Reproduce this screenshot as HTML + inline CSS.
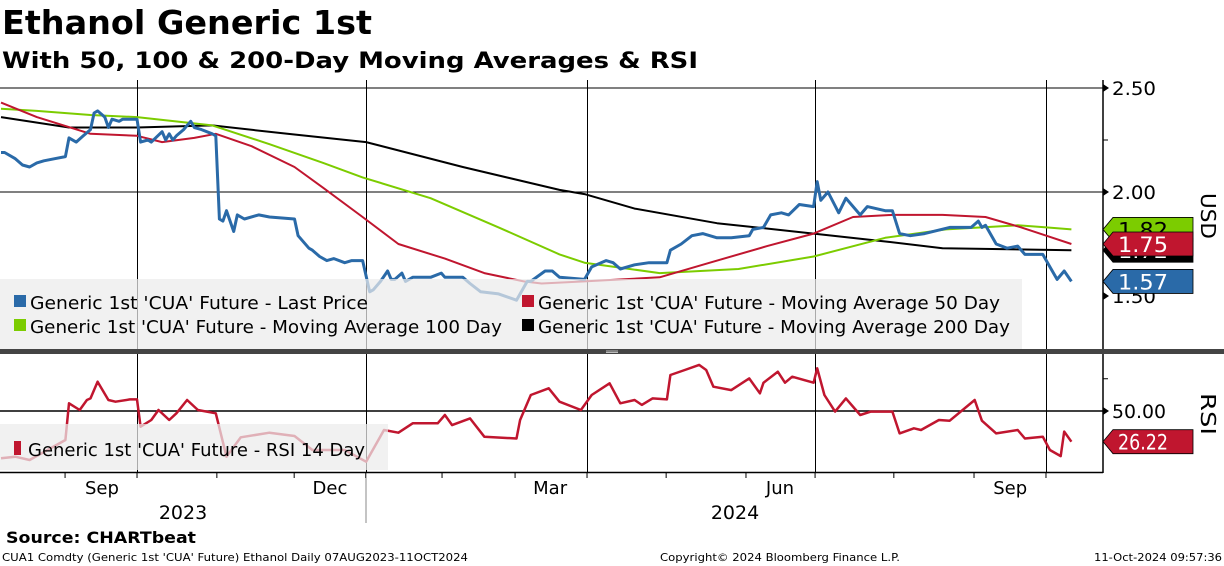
<!DOCTYPE html>
<html><head><meta charset="utf-8"><style>
html,body{margin:0;padding:0;background:#fff;}
svg{display:block;font-family:"DejaVu Sans","Liberation Sans",sans-serif;}
</style></head><body>
<svg id="chart" width="1224" height="566" viewBox="0 0 1224 566" xmlns="http://www.w3.org/2000/svg">
<text x="2" y="34" font-weight="bold" font-size="33" textLength="370" lengthAdjust="spacingAndGlyphs">Ethanol Generic 1st</text>
<text x="2" y="68" font-weight="bold" font-size="22" textLength="696" lengthAdjust="spacingAndGlyphs">With 50, 100 &amp; 200-Day Moving Averages &amp; RSI</text>
<g id="grid"></g>
<g id="series"></g>
<g id="legends"></g>
<g id="axes"></g>
<text x="6" y="543" font-weight="bold" font-size="16" textLength="190" lengthAdjust="spacingAndGlyphs">Source: CHARTbeat</text>
<text x="2" y="561" font-size="11" textLength="466" lengthAdjust="spacingAndGlyphs">CUA1 Comdty (Generic 1st 'CUA' Future) Ethanol  Daily 07AUG2023-11OCT2024</text>
<text x="660" y="561" font-size="11" textLength="240" lengthAdjust="spacingAndGlyphs">Copyright© 2024 Bloomberg Finance L.P.</text>
<text x="1094" y="561" font-size="11" textLength="128" lengthAdjust="spacingAndGlyphs">11-Oct-2024 09:57:36</text>
</svg>
<script>
const priceIdx=[1,2,5,7,9,11,13,16,19,20,22,24,26,27,28,30,31,32,34,35,39,40,42,43,46,47,48,49,50,52,54,55,57,60,61,62,63,64,66,67,69,73,76,83,84,87,88,90,92,94,97,99,102,104,105,107,109,110,111,113,114,116,121,124,125,130,132,135,140,145,148,149,153,155,157,164,166,170,172,174,178,182,187,188,191,194,197,201,205,210,211,214,216,219,221,224,228,229,230,232,235,237,241,243,248,250,252,255,259,266,272,274,275,276,279,282,285,287,292,294,296,298,300];
const priceVal=[2.19,2.19,2.16,2.13,2.12,2.14,2.15,2.16,2.17,2.26,2.24,2.27,2.30,2.38,2.39,2.36,2.31,2.35,2.34,2.35,2.35,2.24,2.25,2.24,2.29,2.25,2.28,2.25,2.27,2.30,2.34,2.31,2.30,2.28,2.27,1.87,1.86,1.91,1.81,1.89,1.87,1.89,1.88,1.87,1.79,1.73,1.72,1.69,1.67,1.68,1.66,1.67,1.67,1.52,1.53,1.57,1.62,1.58,1.58,1.61,1.57,1.59,1.59,1.61,1.59,1.59,1.56,1.52,1.51,1.48,1.57,1.57,1.62,1.62,1.59,1.58,1.64,1.67,1.66,1.63,1.65,1.66,1.66,1.72,1.75,1.79,1.80,1.78,1.78,1.79,1.82,1.83,1.89,1.90,1.89,1.94,1.93,2.05,1.96,2.00,1.90,1.97,1.89,1.93,1.91,1.91,1.80,1.79,1.80,1.83,1.83,1.86,1.83,1.84,1.75,1.73,1.74,1.70,1.70,1.64,1.58,1.62,1.57];
const ma50Idx=[1,11,26,39,46,55,61,71,83,91,102,112,125,136,147,152,164,185,199,215,228,239,250,264,276,286,293,300];
const ma50Val=[2.43,2.36,2.28,2.27,2.24,2.26,2.28,2.22,2.12,2.02,1.88,1.75,1.68,1.61,1.57,1.56,1.57,1.59,1.66,1.74,1.80,1.88,1.89,1.89,1.88,1.83,1.79,1.75];
const ma100Idx=[1,11,26,39,60,76,91,102,121,140,157,164,185,207,228,248,265,285,293,300];
const ma100Val=[2.40,2.39,2.37,2.36,2.32,2.23,2.14,2.07,1.97,1.83,1.70,1.66,1.61,1.63,1.69,1.78,1.82,1.84,1.83,1.82];
const ma200Idx=[1,20,39,60,81,103,130,157,164,178,201,228,249,264,300];
const ma200Val=[2.36,2.31,2.31,2.32,2.28,2.24,2.12,2.01,1.99,1.92,1.85,1.80,1.76,1.73,1.72];
const rsiIdx=[1,5,9,14,19,20,23,25,26,28,31,33,37,39,40,43,45,48,50,53,56,61,64,68,76,83,88,97,103,108,112,116,123,125,127,132,136,145,146,149,154,157,163,166,171,174,178,180,183,187,188,192,196,198,200,205,210,213,214,218,220,222,228,229,231,234,237,241,244,250,252,256,258,263,266,273,275,279,285,287,292,294,297,298,300];
const rsiVal=[13.3,14.6,12.0,19.8,27.5,56.0,50.8,58.5,59.8,72.7,58.5,57.2,59.0,59.0,37.8,43.0,50.8,43.0,48.2,58.5,50.8,48.2,14.6,29.6,33.2,30.6,19.8,19.8,10.7,35.3,33.2,40.5,40.5,46.9,39.1,44.3,30.1,28.7,43.0,62.4,67.6,57.2,50.8,62.4,71.5,56.0,58.5,54.7,59.8,59.0,77.9,81.8,85.7,81.8,68.8,66.2,75.3,63.7,71.9,80.5,71.9,76.6,71.9,83.1,62.4,49.5,59.8,46.9,49.5,49.5,32.6,36.6,35.3,43.0,42.5,58.5,42.5,32.6,35.3,28.7,30.1,19.8,15.0,34.0,26.22];
const priceTicks=[2.5,2.0,1.5];
const priceTickLabels=["2.50","2.00","1.50"];
const rsiTicks=[50];
const rsiTickLabels=["50.00"];
const monthIdx=[39,102.9,164.7,228.4,292.9];
const minorMonthIdx=[18.9,61.3,82.9,124.2,144.6,186.8,209.1,250.4,272.8];
const monthLabelIdx=[29.2,92.9,154.4,218.6,282.9];
const monthLabels=["Sep","Dec","Mar","Jun","Sep"];
const yearLabels=["2023","2024"];

const NS="http://www.w3.org/2000/svg";
const X0=-2.6,DX=3.58,AX=1103;
function xOf(i){return X0+i*DX;}
function yP(v){return 296-(v-1.5)*208;}
function yR(v){return 411-(v-50)*1.29;}
function mk(tag,attrs,parent){const e=document.createElementNS(NS,tag);for(const k in attrs)e.setAttribute(k,attrs[k]);parent.appendChild(e);return e;}
const grid=document.getElementById('grid'),ser=document.getElementById('series'),leg=document.getElementById('legends'),ax=document.getElementById('axes');

priceTicks.forEach((t,i)=>{if(t>=1.9){const l=mk('line',{x1:0,x2:AX,y1:yP(t),y2:yP(t),stroke:'#000','stroke-width':1},grid);

}});
rsiTicks.forEach(t=>{const l=mk('line',{x1:0,x2:AX,y1:yR(t),y2:yR(t),stroke:'#000','stroke-width':1.5},grid);

});
monthIdx.forEach(m=>{const x=Math.round(xOf(m))+0.5;
const l=mk('line',{x1:x,x2:x,y1:80,y2:472,stroke:'#000','stroke-width':1},grid);

});

function path(idx,val,yf,color,w,name){
  const d=idx.map((i,k)=>(k?'L':'M')+xOf(i).toFixed(1)+' '+yf(val[k]).toFixed(1)).join(' ');
  const p=mk('path',{d:d,fill:'none',stroke:color,'stroke-width':w,'stroke-linejoin':'round'},ser);
  
  
}
path(ma200Idx,ma200Val,yP,'#000',2,'ma200-line');
path(ma100Idx,ma100Val,yP,'#7ccc00',2,'ma100-line');
path(ma50Idx,ma50Val,yP,'#c0162f',2,'ma50-line');
path(priceIdx,priceVal,yP,'#2a6aa8',3,'price-line');
path(rsiIdx,rsiVal,yR,'#c0162f',2.5,'rsi-line');

const sep=mk('rect',{x:0,y:349,width:1224,height:5,fill:'#444'},ax);


mk('rect',{x:606,y:350.5,width:12,height:1,fill:'#bbb'},ax);
mk('rect',{x:606,y:352,width:12,height:1,fill:'#bbb'},ax);

const lg1=mk('rect',{x:0,y:279,width:1022,height:70,fill:'rgba(236,236,236,0.72)'},leg);


const entries=[[14,303,'#2a6aa8',"Generic 1st 'CUA' Future - Last Price",338,'legend-last-price'],
[522,303,'#c0162f',"Generic 1st 'CUA' Future - Moving Average 50 Day",462,'legend-ma50'],
[14,327,'#7ccc00',"Generic 1st 'CUA' Future - Moving Average 100 Day",472,'legend-ma100'],
[522,327,'#000',"Generic 1st 'CUA' Future - Moving Average 200 Day",472,'legend-ma200']];
entries.forEach(e=>{const g=mk('g',{},leg);


mk('rect',{x:e[0],y:e[1]-8,width:12,height:12,fill:e[2]},g);
const t=mk('text',{x:e[0]+16,y:e[1]+6,'font-size':18,textLength:e[4],lengthAdjust:'spacingAndGlyphs',fill:'#000'},g);t.textContent=e[3];});
const lg2=mk('rect',{x:0,y:424,width:388,height:46,fill:'rgba(236,236,236,0.72)'},leg);


const rg=mk('g',{},leg);


mk('rect',{x:14,y:441,width:7,height:14,fill:'#c0162f'},rg);
const rt=mk('text',{x:28,y:456,'font-size':18,textLength:337,lengthAdjust:'spacingAndGlyphs'},rg);rt.textContent="Generic 1st 'CUA' Future - RSI 14 Day";

mk('line',{x1:AX,x2:AX,y1:80,y2:349,stroke:'#000','stroke-width':1.5},ax);
mk('line',{x1:AX,x2:AX,y1:354,y2:473,stroke:'#000','stroke-width':1.5},ax);
mk('line',{x1:0,x2:AX,y1:472.5,y2:472.5,stroke:'#000','stroke-width':1.5},ax);
priceTicks.forEach((t,i)=>{const y=yP(t);
mk('path',{d:`M${AX} ${y-4}L${AX+6} ${y}L${AX} ${y+4}Z`,fill:'#000'},ax);
const tx=mk('text',{x:1112,y:y+7,'font-size':19,textLength:44,lengthAdjust:'spacingAndGlyphs'},ax);


tx.textContent=priceTickLabels[i];});
[2.25,1.75].forEach(t=>mk('line',{x1:AX,x2:AX+5,y1:yP(t),y2:yP(t),stroke:'#000'},ax));
mk('line',{x1:AX,x2:AX+5,y1:yR(75),y2:yR(75),stroke:'#000'},ax);
rsiTicks.forEach((t,i)=>{const y=yR(t);
mk('path',{d:`M${AX} ${y-4}L${AX+6} ${y}L${AX} ${y+4}Z`,fill:'#000'},ax);
const tx=mk('text',{x:1112,y:y+7,'font-size':19,textLength:54,lengthAdjust:'spacingAndGlyphs'},ax);


tx.textContent=rsiTickLabels[i];});
const usd=mk('text',{x:0,y:0,'font-size':20,transform:'translate(1201,193) rotate(90)',textLength:46,lengthAdjust:'spacingAndGlyphs'},ax);


usd.textContent='USD';
const rsiT=mk('text',{x:0,y:0,'font-size':20,transform:'translate(1201,393) rotate(90)',textLength:42,lengthAdjust:'spacingAndGlyphs'},ax);


rsiT.textContent='RSI';
minorMonthIdx.forEach(m=>mk('line',{x1:xOf(m),x2:xOf(m),y1:472,y2:478,stroke:'#000'},ax));
monthIdx.forEach(m=>mk('line',{x1:xOf(m),x2:xOf(m),y1:472,y2:478,stroke:'#000'},ax));
monthLabels.forEach((m,i)=>{const t=mk('text',{x:xOf(monthLabelIdx[i]),y:494,'font-size':18,'text-anchor':'middle'},ax);


t.textContent=m;});
[[183,yearLabels[0]],[735,yearLabels[1]]].forEach(a=>{const t=mk('text',{x:a[0],y:519,'font-size':19,'text-anchor':'middle'},ax);


t.textContent=a[1];});
mk('line',{x1:366,x2:366,y1:478,y2:523,stroke:'#888'},ax);

function tag(v,y,fill,tc,name){const g=mk('g',{},ax);


mk('path',{d:`M${AX} ${y}L${AX+10} ${y-12}L1193 ${y-12}L1193 ${y+12}L${AX+10} ${y+12}Z`,fill:fill,stroke:'#000','stroke-width':0.8},g);
const t=mk('text',{x:1118,y:y+8,'font-size':21,fill:tc,textLength:50,lengthAdjust:'spacingAndGlyphs'},g);t.textContent=v;}
tag(ma100Val[ma100Val.length-1].toFixed(2),yP(ma100Val[ma100Val.length-1]),'#7ccc00','#000','tag-ma100');
tag(ma200Val[ma200Val.length-1].toFixed(2),yP(ma200Val[ma200Val.length-1]),'#000','#fff','tag-ma200');
tag(ma50Val[ma50Val.length-1].toFixed(2),yP(ma50Val[ma50Val.length-1]),'#c0162f','#fff','tag-ma50');
tag(priceVal[priceVal.length-1].toFixed(2),yP(priceVal[priceVal.length-1]),'#2a6aa8','#fff','tag-last-price');
tag(rsiVal[rsiVal.length-1].toFixed(2),yR(rsiVal[rsiVal.length-1]),'#c0162f','#fff','tag-rsi');
</script>
</body></html>
